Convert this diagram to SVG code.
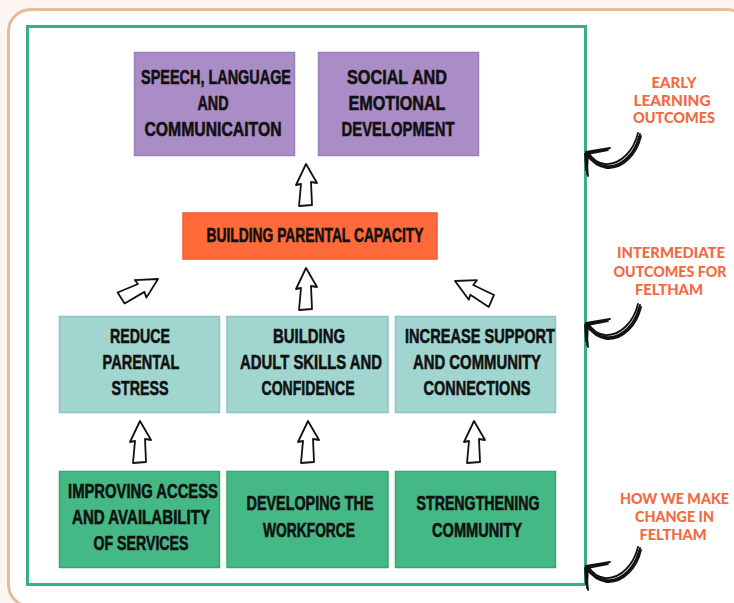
<svg xmlns="http://www.w3.org/2000/svg" xmlns:xlink="http://www.w3.org/1999/xlink" width="734" height="603" viewBox="0 0 734 603">
<style>
.box-t{font-family:"Liberation Sans",Arial,sans-serif;font-weight:bold;font-size:20.5px;fill:#111;stroke:#111;stroke-width:0.6;text-anchor:middle}
.lbl{font-family:Lato,"Open Sans",sans-serif;font-weight:900;font-size:15px;fill:#f4693f;text-anchor:middle}
.purple{fill:#aa8cc7;stroke:#9b7fba;stroke-width:1.5}
.teal{fill:#a0d5d0;stroke:#8dc5bf;stroke-width:1.5}
.green{fill:#44b885;stroke:#3aa676;stroke-width:1.5}
.orange{fill:#fe6a3a;stroke:#f25c2d;stroke-width:1.5}
.up{fill:#fff;stroke:#111;stroke-width:1.8;stroke-linejoin:round}
.brush{fill:none;stroke:#111;stroke-width:1.8;stroke-linecap:round}
</style>
<defs>
<path id="uparrow" class="up" d="M0,0 L11,19 L5,18 L6,41 L-7,42 L-5,20 L-10,21 Z"/>
<g id="curl">
<path class="brush" d="M54,-18 C50,0 36,16 20,14 C12,13 5,8 1,1"/>
<path class="brush" d="M55,-16 C51,2 37,17 21,16 C12,15 5,9 0,2"/>
<path class="brush" d="M52,-19 C48,-2 35,13 19,12 C11,11 6,7 2,0"/>
<path class="brush" d="M53,-15 C49,3 34,18 18,15"/>
<path class="brush" d="M0,0 L24,-4 M1,2 L22,-2 M0,1 L18,-3"/>
<path class="brush" d="M0,0 L2,24 M2,1 L1,22 M-1,2 L0,18"/>
</g>
</defs>
<rect x="0" y="0" width="734" height="603" fill="#fcf5f2"/>
<rect x="8.5" y="9.5" width="740" height="597" rx="22" fill="#fff" stroke="#e6bb98" stroke-width="3"/>
<rect id="frame" x="27.5" y="26.5" width="558" height="558" fill="none" stroke="#3cae80" stroke-width="3"/>

<g id="node-speech">
<rect class="purple" x="134.5" y="52.5" width="160" height="103"/>
<text class="box-t" transform="translate(216,84) scale(0.72,1)" textLength="208.3" lengthAdjust="spacingAndGlyphs">SPEECH, LANGUAGE</text>
<text class="box-t" transform="translate(213,110) scale(0.72,1)" textLength="43.1" lengthAdjust="spacingAndGlyphs">AND</text>
<text class="box-t" transform="translate(213,136) scale(0.72,1)" textLength="190.3" lengthAdjust="spacingAndGlyphs">COMMUNICAITON</text>
</g>
<g id="node-social">
<rect class="purple" x="318.5" y="52.5" width="160" height="103"/>
<text class="box-t" transform="translate(397,84) scale(0.72,1)" textLength="138.9" lengthAdjust="spacingAndGlyphs">SOCIAL AND</text>
<text class="box-t" transform="translate(397,110) scale(0.72,1)" textLength="134.7" lengthAdjust="spacingAndGlyphs">EMOTIONAL</text>
<text class="box-t" transform="translate(398,136) scale(0.72,1)" textLength="156.9" lengthAdjust="spacingAndGlyphs">DEVELOPMENT</text>
</g>
<g id="node-parental">
<rect class="orange" x="183" y="213" width="254" height="46"/>
<text class="box-t" transform="translate(315,242) scale(0.72,1)" textLength="301.4" lengthAdjust="spacingAndGlyphs">BUILDING PARENTAL CAPACITY</text>
</g>
<g id="node-stress">
<rect class="teal" x="59.5" y="316.5" width="160" height="96"/>
<text class="box-t" transform="translate(140,343) scale(0.72,1)" textLength="83.3" lengthAdjust="spacingAndGlyphs">REDUCE</text>
<text class="box-t" transform="translate(141,369) scale(0.72,1)" textLength="106.9" lengthAdjust="spacingAndGlyphs">PARENTAL</text>
<text class="box-t" transform="translate(140,395) scale(0.72,1)" textLength="79.2" lengthAdjust="spacingAndGlyphs">STRESS</text>
</g>
<g id="node-adult">
<rect class="teal" x="227" y="316.5" width="161" height="96"/>
<text class="box-t" transform="translate(309,343) scale(0.72,1)" textLength="100" lengthAdjust="spacingAndGlyphs">BUILDING</text>
<text class="box-t" transform="translate(311,369) scale(0.72,1)" textLength="197.2" lengthAdjust="spacingAndGlyphs">ADULT SKILLS AND</text>
<text class="box-t" transform="translate(308,395) scale(0.72,1)" textLength="129.2" lengthAdjust="spacingAndGlyphs">CONFIDENCE</text>
</g>
<g id="node-support">
<rect class="teal" x="395.5" y="316.5" width="160" height="96"/>
<text class="box-t" transform="translate(480,343) scale(0.72,1)" textLength="208.3" lengthAdjust="spacingAndGlyphs">INCREASE SUPPORT</text>
<text class="box-t" transform="translate(477,369) scale(0.72,1)" textLength="177.8" lengthAdjust="spacingAndGlyphs">AND COMMUNITY</text>
<text class="box-t" transform="translate(477,395) scale(0.72,1)" textLength="148.6" lengthAdjust="spacingAndGlyphs">CONNECTIONS</text>
</g>
<g id="node-access">
<rect class="green" x="59.5" y="471.5" width="160" height="96"/>
<text class="box-t" transform="translate(143,498) scale(0.72,1)" textLength="208.3" lengthAdjust="spacingAndGlyphs">IMPROVING ACCESS</text>
<text class="box-t" transform="translate(141,524) scale(0.72,1)" textLength="191.7" lengthAdjust="spacingAndGlyphs">AND AVAILABILITY</text>
<text class="box-t" transform="translate(141,550) scale(0.72,1)" textLength="131.9" lengthAdjust="spacingAndGlyphs">OF SERVICES</text>
</g>
<g id="node-workforce">
<rect class="green" x="227" y="471.5" width="161" height="96"/>
<text class="box-t" transform="translate(310,510) scale(0.72,1)" textLength="176.4" lengthAdjust="spacingAndGlyphs">DEVELOPING THE</text>
<text class="box-t" transform="translate(309,536.5) scale(0.72,1)" textLength="127.8" lengthAdjust="spacingAndGlyphs">WORKFORCE</text>
</g>
<g id="node-community">
<rect class="green" x="395.5" y="471.5" width="160" height="96"/>
<text class="box-t" transform="translate(478,510) scale(0.72,1)" textLength="170.8" lengthAdjust="spacingAndGlyphs">STRENGTHENING</text>
<text class="box-t" transform="translate(477,536.5) scale(0.72,1)" textLength="125" lengthAdjust="spacingAndGlyphs">COMMUNITY</text>
</g>

<g id="label-early">
<text class="lbl" x="674" y="88" textLength="45" lengthAdjust="spacingAndGlyphs">EARLY</text>
<text class="lbl" x="672" y="106" textLength="77" lengthAdjust="spacingAndGlyphs">LEARNING</text>
<text class="lbl" x="674" y="123" textLength="82" lengthAdjust="spacingAndGlyphs">OUTCOMES</text>
</g>
<g id="label-intermediate">
<text class="lbl" x="671" y="258" textLength="108" lengthAdjust="spacingAndGlyphs">INTERMEDIATE</text>
<text class="lbl" x="670" y="276.5" textLength="113" lengthAdjust="spacingAndGlyphs">OUTCOMES FOR</text>
<text class="lbl" x="669" y="295" textLength="68" lengthAdjust="spacingAndGlyphs">FELTHAM</text>
</g>
<g id="label-how">
<text class="lbl" x="674.5" y="503.5" textLength="109" lengthAdjust="spacingAndGlyphs">HOW WE MAKE</text>
<text class="lbl" x="674.5" y="521.5" textLength="79" lengthAdjust="spacingAndGlyphs">CHANGE IN</text>
<text class="lbl" x="673" y="540" textLength="67" lengthAdjust="spacingAndGlyphs">FELTHAM</text>
</g>

<g id="connectors">
<use xlink:href="#uparrow" href="#uparrow" transform="translate(306,164)"/>
<use xlink:href="#uparrow" href="#uparrow" transform="translate(306,268)"/>
<use xlink:href="#uparrow" href="#uparrow" transform="translate(158,279) rotate(62)"/>
<use xlink:href="#uparrow" href="#uparrow" transform="translate(455,281) rotate(-62)"/>
<use xlink:href="#uparrow" href="#uparrow" transform="translate(140,421)"/>
<use xlink:href="#uparrow" href="#uparrow" transform="translate(308,421)"/>
<use xlink:href="#uparrow" href="#uparrow" transform="translate(474,421)"/>
<use xlink:href="#curl" href="#curl" transform="translate(586,152)"/>
<use xlink:href="#curl" href="#curl" transform="translate(586,323)"/>
<use xlink:href="#curl" href="#curl" transform="translate(586,566)"/>
</g>
</svg>
